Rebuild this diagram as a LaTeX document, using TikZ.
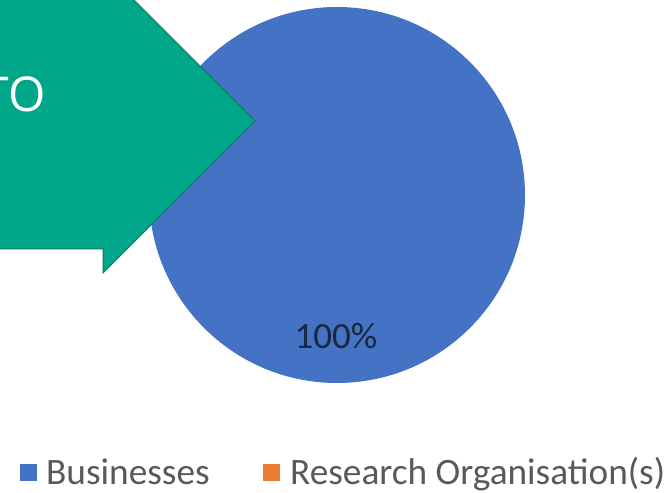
\documentclass[tikz,border=0pt]{standalone}
\usepackage{fontspec}
\setmainfont{Carlito}
\newfontfamily\arrowfont{Open Sans}
\definecolor{pieblue}{HTML}{4472C4}
\definecolor{pieorange}{HTML}{ED7D31}
\definecolor{teal}{HTML}{00A688}
\definecolor{tealedge}{HTML}{0A7A64}
\definecolor{legendgray}{HTML}{595959}
\definecolor{labelnavy}{HTML}{1A2740}
\tikzset{
  legendtext/.style={font=\fontsize{37.3}{40}\selectfont, text=legendgray, inner sep=0pt, anchor=base west},
  legendbox/.style={minimum size=17pt, inner sep=0pt, draw=none},
}
\begin{document}
\begin{tikzpicture}[x=1pt,y=1pt]
\useasboundingbox (0,0) rectangle (670,493);
\clip (0,0) rectangle (670,493);
% pie (single slice, 100%)
\node[circle, fill=pieblue, minimum size=376pt, inner sep=0pt] (pie) at (337,298) {};
\node[font=\fontsize{37}{40}\selectfont, text=labelnavy, anchor=base, inner sep=0pt] (pct) at (336,144) {100\%};
% arrow
\fill[teal, draw=tealedge, line width=1pt]
  (-60,500) -- (103,500) -- (103,524) -- (255,372) -- (103,220) -- (103,244) -- (-60,244) -- cycle;
\node[font=\arrowfont\fontsize{48}{52}\selectfont, text=white, anchor=base east, inner sep=0pt] (arrowtext) at (46,381) {TO};
% legend
\node[legendbox, fill=pieblue] (lb1) at (28,20) {};
\node[legendtext] (lt1) at (46,8) {Businesses};
\node[legendbox, fill=pieorange] (lb2) at (271,20) {};
\node[legendtext] (lt2) at (290,8) {Research Organisation(s)};
\end{tikzpicture}
\end{document}
